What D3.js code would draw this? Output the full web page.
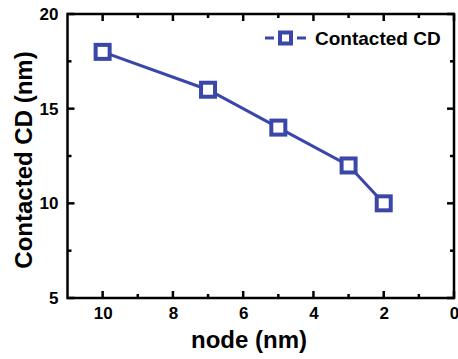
<!DOCTYPE html>
<head>
<meta charset="utf-8">
<title>Contacted CD vs node</title>
<script src="https://cdn.jsdelivr.net/npm/d3@7"></script>
<style>
  body { margin: 0; background: #fff; }
  text { font-family: "Liberation Sans", Arial, sans-serif; font-weight: bold; }
</style>
</head>
<body>
<svg width="458" height="359"></svg>
<script>
var nodes = [10, 7, 5, 3, 2]
var cd = [18, 16, 14, 12, 10]
var xTicks = [10, 8, 6, 4, 2, 0]
var yTicks = [5, 10, 15, 20]
var xMinor = [9, 7, 5, 3, 1]
var yMinor = [7.5, 12.5, 17.5]
var seriesName = 'Contacted CD'

var col = '#3a46a8'
var svg = d3.select('svg')
var m = { l: 67.5, r: 454, t: 14, b: 298 }

var x = d3.scaleLinear().domain([11, 0]).range([m.l, m.r])
var y = d3.scaleLinear().domain([5, 20]).range([m.b, m.t])

// tick labels from d3 axes
var bx = svg.append('g').attr('transform', 'translate(0,' + m.b + ')')
  .call(d3.axisBottom(x).tickValues(xTicks).tickSize(0).tickPadding(9).tickFormat(d3.format('d')))
var ly = svg.append('g').attr('transform', 'translate(' + m.l + ',0)')
  .call(d3.axisLeft(y).tickValues(yTicks).tickSize(0).tickPadding(9).tickFormat(d3.format('d')))
bx.selectAll('.domain').remove()
ly.selectAll('.domain').remove()
bx.selectAll('text').attr('font-size', 17).attr('fill', '#000')
ly.selectAll('text').attr('font-size', 17).attr('fill', '#000')

// inward ticks on all four sides
function xt(vals, len) {
  [[m.b, -len], [m.t, len]].forEach(function (s) {
    svg.append('g').selectAll('line').data(vals).enter().append('line')
      .attr('x1', x).attr('x2', x).attr('y1', s[0]).attr('y2', s[0] + s[1])
      .attr('stroke', '#000').attr('stroke-width', 2.5)
  })
}
function yt(vals, len) {
  [[m.l, len], [m.r, -len]].forEach(function (s) {
    svg.append('g').selectAll('line').data(vals).enter().append('line')
      .attr('y1', y).attr('y2', y).attr('x1', s[0]).attr('x2', s[0] + s[1])
      .attr('stroke', '#000').attr('stroke-width', 2.5)
  })
}
xt(xTicks, 7); xt(xMinor, 4)
yt(yTicks, 7); yt(yMinor, 4)

svg.append('rect').attr('x', m.l).attr('y', m.t)
  .attr('width', m.r - m.l).attr('height', m.b - m.t)
  .attr('fill', 'none').attr('stroke', '#000').attr('stroke-width', 2.5)

// series
var pts = nodes.map(function (d, i) { return [d, cd[i]] })
svg.append('path').datum(pts)
  .attr('d', d3.line().x(function (d) { return x(d[0]) }).y(function (d) { return y(d[1]) }))
  .attr('fill', 'none').attr('stroke', col).attr('stroke-width', 3)

svg.selectAll('rect.pt').data(pts).enter().append('rect').attr('class', 'pt')
  .attr('x', function (d) { return x(d[0]) - 7 })
  .attr('y', function (d) { return y(d[1]) - 7 })
  .attr('width', 14).attr('height', 14)
  .attr('fill', '#fff').attr('stroke', col).attr('stroke-width', 4)

// legend
var lg = svg.append('g').attr('transform', 'translate(265,38)')
lg.append('line').attr('x1', 0).attr('x2', 9).attr('stroke', col).attr('stroke-width', 3)
lg.append('line').attr('x1', 32).attr('x2', 41).attr('stroke', col).attr('stroke-width', 3)
lg.append('rect').attr('x', 15).attr('y', -5.5).attr('width', 11).attr('height', 11)
  .attr('fill', '#fff').attr('stroke', col).attr('stroke-width', 4)
lg.append('text').attr('x', 50).attr('y', 7).attr('font-size', 19).text(seriesName)

// axis titles
svg.append('text').attr('x', 249).attr('y', 348)
  .attr('text-anchor', 'middle').attr('font-size', 24).text('node (nm)')
svg.append('text').attr('transform', 'translate(32,160) rotate(-90)')
  .attr('text-anchor', 'middle').attr('font-size', 24).text('Contacted CD (nm)')
</script>
</body>
